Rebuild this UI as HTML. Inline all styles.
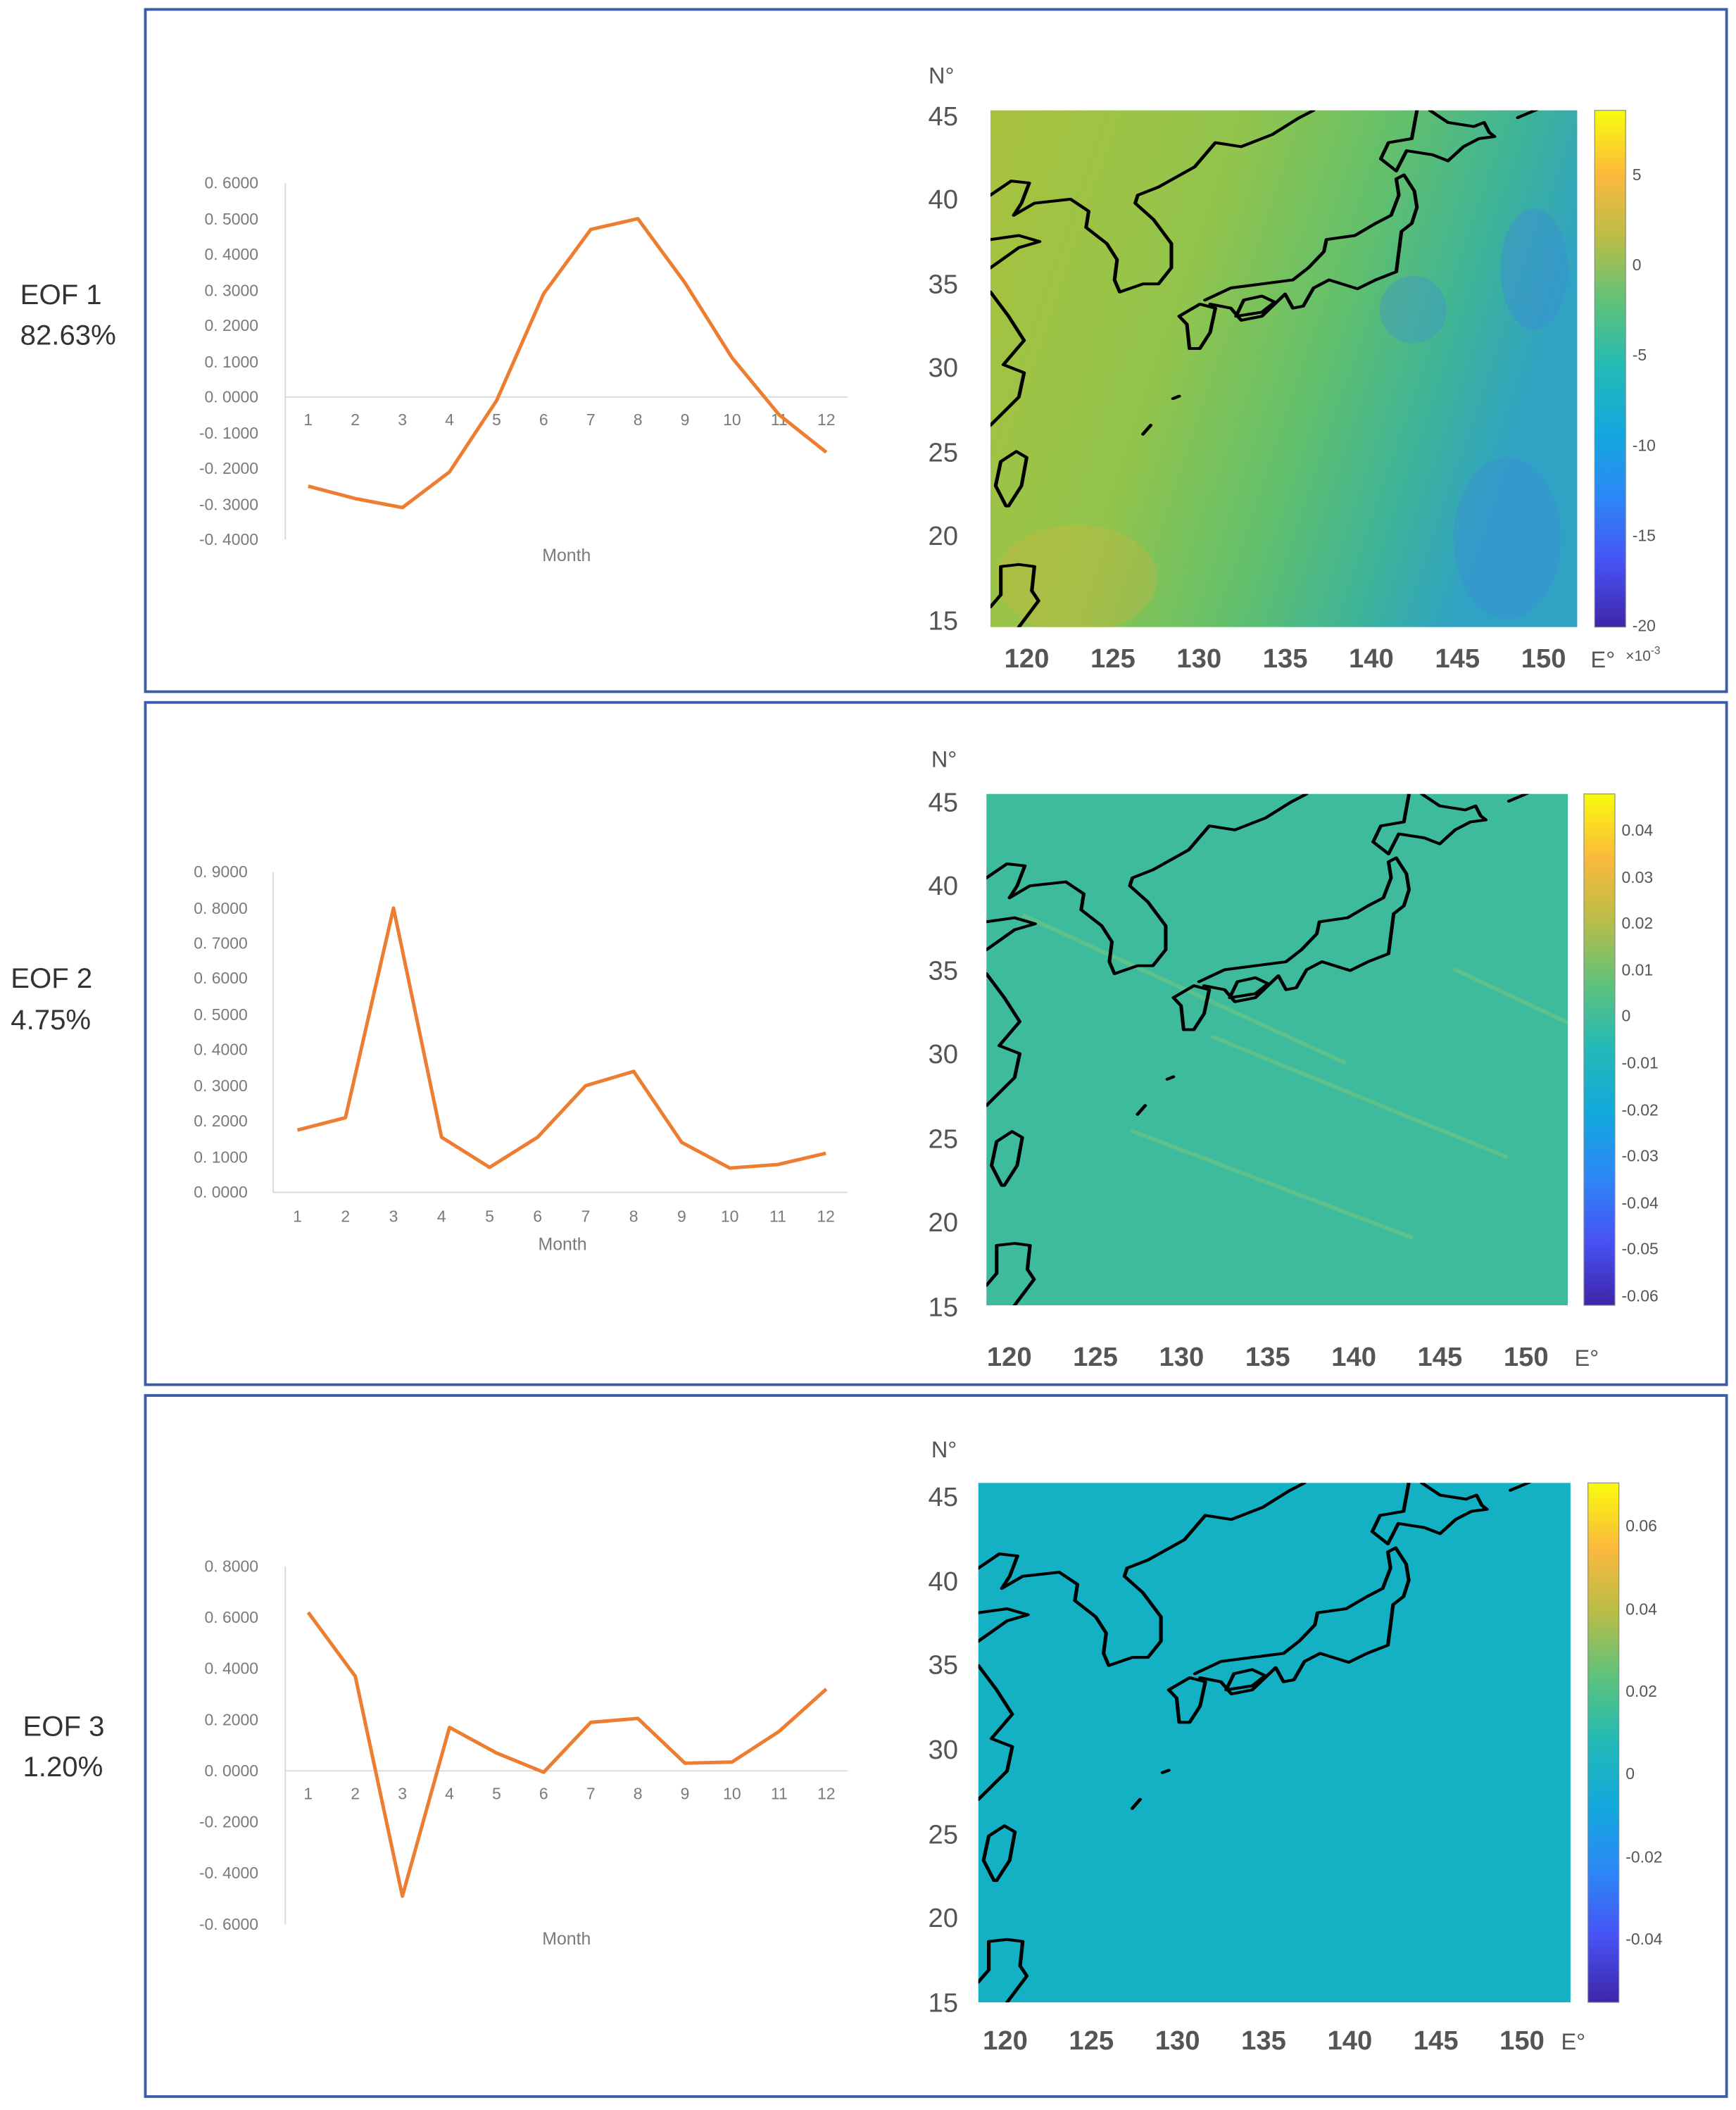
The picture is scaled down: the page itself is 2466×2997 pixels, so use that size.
<!DOCTYPE html>
<html><head><meta charset="utf-8"><style>
html,body{margin:0;padding:0;background:#fff;}
svg{display:block;}
text{font-family:"Liberation Sans",sans-serif;}
.ax{fill:#7a7a7a;font-size:12px;}
.eof{fill:#333;font-size:21px;}
.lat{fill:#555;font-size:20px;}
.lon{fill:#555;font-size:20px;font-weight:bold;}
.cb{fill:#555;font-size:12px;}
.coast{fill:none;stroke:#000;stroke-width:7;stroke-linejoin:round;stroke-linecap:round;}
</style></head><body>
<svg width="2466" height="2997" viewBox="0 0 1290 1568" preserveAspectRatio="none" xmlns="http://www.w3.org/2000/svg">
<defs>
<linearGradient id="parula" x1="0" y1="1" x2="0" y2="0">
<stop offset="0" stop-color="#3e26a8"/><stop offset="0.125" stop-color="#4752f4"/><stop offset="0.25" stop-color="#2d87f7"/><stop offset="0.375" stop-color="#12a8dc"/><stop offset="0.5" stop-color="#22b9b8"/><stop offset="0.625" stop-color="#5cc27c"/><stop offset="0.75" stop-color="#b8bd48"/><stop offset="0.875" stop-color="#fbb93c"/><stop offset="1" stop-color="#f9fb0e"/>
</linearGradient>
<linearGradient id="m1" x1="0" y1="0" x2="1" y2="0.3">
<stop offset="0" stop-color="#a9c23e"/><stop offset="0.4" stop-color="#92c44c"/><stop offset="0.65" stop-color="#62c06c"/><stop offset="0.85" stop-color="#3cb39a"/><stop offset="1" stop-color="#30a2c4"/>
</linearGradient>
<g id="coast">
<path class="coast" d="M175,380 L215,345 L250,350 L235,400 L220,430 L260,400 L330,390 L365,420 L360,460 L400,500 L420,540 L415,590 L425,620 L470,600 L500,600 L525,560 L525,500 L490,440 L455,400 L460,380 L500,360 L570,310 L610,250 L660,260 L720,230 L770,190 L800,170"/>
<path class="coast" d="M175,490 L230,480 L270,495 L230,510 L175,560"/>
<path class="coast" d="M175,620 L210,680 L240,740 L200,800 L240,820 L230,880 L175,950"/>
<path class="coast" d="M205,1150 L185,1100 L195,1040 L225,1015 L245,1030 L235,1100 L210,1150 Z"/>
<path class="coast" d="M175,1400 L195,1370 L195,1300 L230,1295 L260,1300 L255,1360 L268,1385 L230,1450"/>
<path class="coast" d="M590,640 L640,610 L700,600 L760,590 L790,560 L820,520 L825,490 L880,480 L920,450 L950,430 L965,380 L960,340 L975,330 L995,370 L1000,410 L990,450 L970,470 L960,570 L920,590 L885,612 L830,590 L800,610 L780,655 L760,660 L745,625 L700,680 L660,690 L640,660 L600,650"/>
<path class="coast" d="M540,680 L580,650 L610,660 L600,720 L580,760 L560,760 L555,700 Z"/>
<path class="coast" d="M650,680 L665,640 L700,630 L725,645 L700,670 Z"/>
<path class="coast" d="M960,320 L930,290 L945,250 L990,240 L1000,170"/>
<path class="coast" d="M1025,170 L1060,200 L1110,210 L1130,200 L1140,225 L1150,235 L1120,240 L1090,260 L1060,295 L1030,280 L980,270 L960,320"/>
<path class="coast" d="M1195,188 L1232,168"/>
<path class="coast" d="M528,884 L540,878"/>
<path class="coast" d="M470,972 L485,950"/>
</g>
<clipPath id="c1"><rect x="736" y="82" width="436" height="384"/></clipPath>
<clipPath id="c2"><rect x="733" y="590" width="432" height="380"/></clipPath>
<clipPath id="c3"><rect x="727" y="1102" width="440" height="386"/></clipPath>
</defs>

<rect x="108" y="7" width="1175" height="507" fill="none" stroke="#3b5ca8" stroke-width="2"/>
<rect x="108" y="522" width="1175" height="507" fill="none" stroke="#3b5ca8" stroke-width="2"/>
<rect x="108" y="1037" width="1175" height="521" fill="none" stroke="#3b5ca8" stroke-width="2"/>

<text class="eof" x="15" y="226">EOF 1</text><text class="eof" x="15" y="256">82.63%</text>
<text class="eof" x="8" y="734">EOF 2</text><text class="eof" x="8" y="765">4.75%</text>
<text class="eof" x="17" y="1290">EOF 3</text><text class="eof" x="17" y="1320">1.20%</text>

<!-- Chart 1 -->
<line x1="212" y1="136" x2="212" y2="401" stroke="#d9d9d9" stroke-width="1"/>
<line x1="212" y1="295" x2="630" y2="295" stroke="#d9d9d9" stroke-width="1"/>
<g class="ax" text-anchor="end">
<text x="192" y="140">0. 6000</text><text x="192" y="167">0. 5000</text><text x="192" y="193">0. 4000</text><text x="192" y="220">0. 3000</text><text x="192" y="246">0. 2000</text><text x="192" y="273">0. 1000</text><text x="192" y="299">0. 0000</text><text x="192" y="326">-0. 1000</text><text x="192" y="352">-0. 2000</text><text x="192" y="379">-0. 3000</text><text x="192" y="405">-0. 4000</text>
</g>
<g class="ax" text-anchor="middle">
<text x="229" y="316">1</text><text x="264" y="316">2</text><text x="299" y="316">3</text><text x="334" y="316">4</text><text x="369" y="316">5</text><text x="404" y="316">6</text><text x="439" y="316">7</text><text x="474" y="316">8</text><text x="509" y="316">9</text><text x="544" y="316">10</text><text x="579" y="316">11</text><text x="614" y="316">12</text>
<text x="421" y="417" style="font-size:13px">Month</text>
</g>
<polyline fill="none" stroke="#ed7d31" stroke-width="2.6" stroke-linejoin="round" points="229,361.3 264,370.5 299,377.2 334,350.7 369,297.7 404,218.2 439,170.5 474,162.5 509,210.2 544,265.9 579,308.3 614,336.1"/>

<!-- Chart 2 -->
<line x1="203" y1="648" x2="203" y2="886" stroke="#d9d9d9" stroke-width="1"/>
<line x1="203" y1="886" x2="630" y2="886" stroke="#d9d9d9" stroke-width="1"/>
<g class="ax" text-anchor="end">
<text x="184" y="652">0. 9000</text><text x="184" y="679">0. 8000</text><text x="184" y="705">0. 7000</text><text x="184" y="731">0. 6000</text><text x="184" y="758">0. 5000</text><text x="184" y="784">0. 4000</text><text x="184" y="811">0. 3000</text><text x="184" y="837">0. 2000</text><text x="184" y="864">0. 1000</text><text x="184" y="890">0. 0000</text>
</g>
<g class="ax" text-anchor="middle">
<text x="221" y="908">1</text><text x="256.7" y="908">2</text><text x="292.4" y="908">3</text><text x="328.1" y="908">4</text><text x="363.8" y="908">5</text><text x="399.5" y="908">6</text><text x="435.2" y="908">7</text><text x="470.9" y="908">8</text><text x="506.6" y="908">9</text><text x="542.3" y="908">10</text><text x="578" y="908">11</text><text x="613.7" y="908">12</text>
<text x="418" y="929" style="font-size:13px">Month</text>
</g>
<polyline fill="none" stroke="#ed7d31" stroke-width="2.6" stroke-linejoin="round" points="221,839.8 256.7,830.6 292.4,674.8 328.1,845.1 363.8,867.5 399.5,845.1 435.2,806.8 470.9,796.2 506.6,849 542.3,868 578,865.4 613.7,857"/>

<!-- Chart 3 -->
<line x1="212" y1="1164" x2="212" y2="1430" stroke="#d9d9d9" stroke-width="1"/>
<line x1="212" y1="1316" x2="630" y2="1316" stroke="#d9d9d9" stroke-width="1"/>
<g class="ax" text-anchor="end">
<text x="192" y="1168">0. 8000</text><text x="192" y="1206">0. 6000</text><text x="192" y="1244">0. 4000</text><text x="192" y="1282">0. 2000</text><text x="192" y="1320">0. 0000</text><text x="192" y="1358">-0. 2000</text><text x="192" y="1396">-0. 4000</text><text x="192" y="1434">-0. 6000</text>
</g>
<g class="ax" text-anchor="middle">
<text x="229" y="1337">1</text><text x="264" y="1337">2</text><text x="299" y="1337">3</text><text x="334" y="1337">4</text><text x="369" y="1337">5</text><text x="404" y="1337">6</text><text x="439" y="1337">7</text><text x="474" y="1337">8</text><text x="509" y="1337">9</text><text x="544" y="1337">10</text><text x="579" y="1337">11</text><text x="614" y="1337">12</text>
<text x="421" y="1445" style="font-size:13px">Month</text>
</g>
<polyline fill="none" stroke="#ed7d31" stroke-width="2.6" stroke-linejoin="round" points="229,1198.2 264,1245.7 299,1409.1 334,1283.7 369,1302.7 404,1317 439,1279.9 474,1277 509,1310.3 544,1309.4 579,1286.6 614,1255.2"/>

<!-- Map 1 -->
<rect x="736" y="82" width="436" height="384" fill="url(#m1)"/>
<g clip-path="url(#c1)">
<ellipse cx="1140" cy="200" rx="25" ry="45" fill="#3b8fd6" opacity="0.45"/>
<ellipse cx="1120" cy="400" rx="40" ry="60" fill="#3b8fd6" opacity="0.4"/>
<ellipse cx="1050" cy="230" rx="25" ry="25" fill="#3b8fd6" opacity="0.35"/>
<ellipse cx="800" cy="430" rx="60" ry="40" fill="#d7b33a" opacity="0.3"/>
<g transform="translate(736,82) scale(0.38414,0.3) translate(-175,-170)"><use href="#coast"/></g>
</g>
<rect x="1185" y="82" width="23" height="384" fill="url(#parula)" stroke="#888" stroke-width="0.6"/>
<g class="cb"><text x="1213" y="134">5</text><text x="1213" y="201">0</text><text x="1213" y="268">-5</text><text x="1213" y="335">-10</text><text x="1213" y="402">-15</text><text x="1213" y="469">-20</text><text x="1208" y="491" style="font-size:11px">×10<tspan dy="-5" font-size="8">-3</tspan></text></g>
<g class="lat" text-anchor="end"><text x="712" y="93">45</text><text x="712" y="155">40</text><text x="712" y="218">35</text><text x="712" y="280">30</text><text x="712" y="343">25</text><text x="712" y="405">20</text><text x="712" y="468">15</text></g>
<text class="lat" x="690" y="62" style="font-size:17px">N°</text>
<g class="lon" text-anchor="middle"><text x="763" y="496">120</text><text x="827" y="496">125</text><text x="891" y="496">130</text><text x="955" y="496">135</text><text x="1019" y="496">140</text><text x="1083" y="496">145</text><text x="1147" y="496">150</text></g>
<text class="lat" x="1182" y="496" style="font-size:17px">E°</text>

<!-- Map 2 -->
<rect x="733" y="590" width="432" height="380" fill="#3dbb9c"/>
<g clip-path="url(#c2)">
<g stroke="#7cc77f" stroke-width="3" opacity="0.5"><line x1="760" y1="680" x2="1000" y2="790"/><line x1="1080" y1="720" x2="1165" y2="760"/><line x1="840" y1="840" x2="1050" y2="920"/><line x1="900" y1="770" x2="1120" y2="860"/></g>
<g transform="translate(733,590) scale(0.38062,0.29688) translate(-175,-170)"><use href="#coast"/></g>
</g>
<rect x="1177" y="590" width="23" height="380" fill="url(#parula)" stroke="#888" stroke-width="0.6"/>
<g class="cb"><text x="1205" y="621">0.04</text><text x="1205" y="656">0.03</text><text x="1205" y="690">0.02</text><text x="1205" y="725">0.01</text><text x="1205" y="759">0</text><text x="1205" y="794">-0.01</text><text x="1205" y="829">-0.02</text><text x="1205" y="863">-0.03</text><text x="1205" y="898">-0.04</text><text x="1205" y="932">-0.05</text><text x="1205" y="967">-0.06</text></g>
<g class="lat" text-anchor="end"><text x="712" y="603">45</text><text x="712" y="665">40</text><text x="712" y="728">35</text><text x="712" y="790">30</text><text x="712" y="853">25</text><text x="712" y="915">20</text><text x="712" y="978">15</text></g>
<text class="lat" x="692" y="570" style="font-size:17px">N°</text>
<g class="lon" text-anchor="middle"><text x="750" y="1015">120</text><text x="814" y="1015">125</text><text x="878" y="1015">130</text><text x="942" y="1015">135</text><text x="1006" y="1015">140</text><text x="1070" y="1015">145</text><text x="1134" y="1015">150</text></g>
<text class="lat" x="1170" y="1015" style="font-size:17px">E°</text>

<!-- Map 3 -->
<rect x="727" y="1102" width="440" height="386" fill="#14b0c3"/>
<g clip-path="url(#c3)">
<g transform="translate(727,1102) scale(0.38767,0.30156) translate(-175,-170)"><use href="#coast"/></g>
</g>
<rect x="1180" y="1102" width="23" height="386" fill="url(#parula)" stroke="#888" stroke-width="0.6"/>
<g class="cb"><text x="1208" y="1138">0.06</text><text x="1208" y="1200">0.04</text><text x="1208" y="1261">0.02</text><text x="1208" y="1322">0</text><text x="1208" y="1384">-0.02</text><text x="1208" y="1445">-0.04</text></g>
<g class="lat" text-anchor="end"><text x="712" y="1119">45</text><text x="712" y="1182">40</text><text x="712" y="1244">35</text><text x="712" y="1307">30</text><text x="712" y="1370">25</text><text x="712" y="1432">20</text><text x="712" y="1495">15</text></g>
<text class="lat" x="692" y="1083" style="font-size:17px">N°</text>
<g class="lon" text-anchor="middle"><text x="747" y="1523">120</text><text x="811" y="1523">125</text><text x="875" y="1523">130</text><text x="939" y="1523">135</text><text x="1003" y="1523">140</text><text x="1067" y="1523">145</text><text x="1131" y="1523">150</text></g>
<text class="lat" x="1160" y="1523" style="font-size:17px">E°</text>
</svg>
</body></html>
